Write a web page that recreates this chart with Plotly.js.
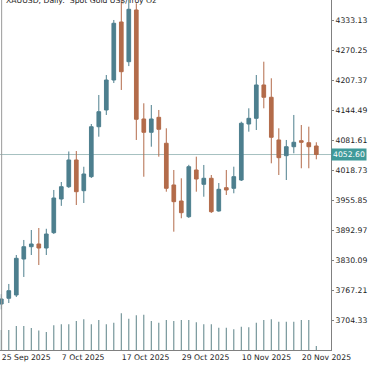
<!DOCTYPE html>
<html>
<head>
<meta charset="utf-8">
<script src="https://cdn.plot.ly/plotly-3.0.1.min.js"></script>
<style>html,body{margin:0;padding:0;background:#fff;}#chart{width:375px;height:366px;}</style>
</head>
<body>
<div id="chart"></div>
<script>
const dates = ["2025-09-25","2025-09-26","2025-09-29","2025-09-30","2025-10-01","2025-10-02","2025-10-03",
  "2025-10-06","2025-10-07","2025-10-08","2025-10-09","2025-10-10","2025-10-13","2025-10-14","2025-10-15",
  "2025-10-16","2025-10-17","2025-10-20","2025-10-21","2025-10-22","2025-10-23","2025-10-24","2025-10-27",
  "2025-10-28","2025-10-29","2025-10-30","2025-10-31","2025-11-03","2025-11-04","2025-11-05","2025-11-06",
  "2025-11-07","2025-11-10","2025-11-11","2025-11-12","2025-11-13","2025-11-14","2025-11-17","2025-11-18",
  "2025-11-19","2025-11-20","2025-11-21","2025-11-24"];
const open = [3739.3,3751.3,3758.2,3833.6,3859.4,3865.1,3856.7,3888.8,3959.4,3985.2,4041.2,3976.8,4006.2,4110.9,4146.0,
  4208.8,4330.4,4247.2,4355.6,4127.1,4099.2,4130.6,4076.2,3988.8,3955.2,3922.3,4020.2,3990.2,4002.8,3934.3,
  3983.1,3981.8,3999.2,4116.6,4128.5,4198.4,4172.6,4083.1,4050.2,4069.0,4081.6,4077.4,4070.5];
const high = [3760.0,3781.3,3842.0,3873.5,3894.4,3898.6,3897.0,3978.3,3995.0,4059.0,4060.0,4027.0,4116.6,4177.4,4219.3,
  4334.6,4382.8,4380.7,4369.6,4160.0,4156.4,4146.0,4107.6,4020.2,4002.8,4031.0,4048.1,4030.7,4009.7,3992.9,
  4020.2,4027.1,4121.4,4149.5,4219.3,4247.2,4212.4,4107.6,4083.1,4135.5,4114.5,4111.0,4078.3];
const low = [3728.0,3741.4,3754.0,3796.0,3842.0,3821.0,3842.0,3886.0,3945.0,3982.5,3946.8,3951.0,4003.4,4090.0,4135.5,
  4202.5,4187.9,4238.0,4083.1,4006.1,4069.0,4048.1,3974.7,3890.9,3919.0,3919.6,3974.7,3964.2,3930.1,3932.8,
  3967.8,3971.4,3997.1,4100.5,4104.0,4149.5,4034.2,4009.7,3999.2,4055.2,4023.8,4023.8,4042.6];
const close = [3749.8,3767.2,3835.1,3859.4,3865.1,3856.7,3886.0,3961.5,3985.2,4041.2,3974.7,4011.8,4110.9,4142.4,4208.8,
  4327.7,4226.2,4357.0,4126.5,4099.2,4127.1,4105.5,3981.8,3953.8,3930.7,4027.1,4001.3,4002.8,3932.8,3979.7,
  3978.3,4006.2,4118.1,4128.5,4198.4,4172.6,4088.7,4046.0,4069.0,4078.3,4078.3,4069.0,4052.6];
const volume = [200000,200000,240000,240000,220000,195000,180000,247000,257000,257000,290000,307000,257000,300000,257000,
  273000,367000,313000,347000,353000,290000,273000,300000,290000,300000,300000,277000,257000,257000,223000,
  223000,207000,233000,227000,273000,300000,307000,283000,283000,283000,300000,300000,40000];
const xTickDates = ["2025-09-25","2025-10-07","2025-10-17","2025-10-29","2025-11-10","2025-11-20"];
const xTickText = ["25 Sep 2025","7 Oct 2025","17 Oct 2025","29 Oct 2025","10 Nov 2025","20 Nov 2025"];
const yTickVals = [3704.33,3767.21,3830.09,3892.97,3955.85,4018.73,4081.61,4144.49,4207.37,4270.25,4333.13];
const yTickText = ["3704.33","3767.21","3830.09","3892.97","3955.85","4018.73","4081.61","4144.49","4207.37","4270.25","4333.13"];
const currentPrice = 4052.60;
const currentPriceText = "4052.60";
const chartTitle = "XAUUSD, Daily:  Spot Gold US$/Troy Oz";

const font = {family: "DejaVu Sans", size: 7.7, color: "#1e1e1e"};
const bull = "#4d7f8e", bear = "#b36b4a";

const traces = [
  {type: "bar", x: dates, y: volume, yaxis: "y2", width: 0.14,
   marker: {color: "#62878c", line: {width: 0}}, hoverinfo: "skip"},
  {type: "candlestick", x: dates, open: open, high: high, low: low, close: close,
   increasing: {line: {color: bull, width: 1}, fillcolor: bull},
   decreasing: {line: {color: bear, width: 1}, fillcolor: bear},
   whiskerwidth: 0}
];

const layout = {
  width: 375, height: 366,
  margin: {l: 0, r: 44, t: 0, b: 16, pad: 0},
  paper_bgcolor: "#ffffff", plot_bgcolor: "#ffffff",
  showlegend: false,
  font: font,
  xaxis: {type: "category", range: [-0.173, 43.96], tickvals: xTickDates, ticktext: xTickText,
    ticks: "", showline: true, linecolor: "#808080", linewidth: 1, showgrid: false, zeroline: false,
    tickfont: font, ticklabelposition: "outside right", rangeslider: {visible: false}, fixedrange: true},
  yaxis: {side: "right", range: [3642.9, 4376.5], tickvals: yTickVals, ticktext: yTickText,
    ticks: "outside", ticklen: 2, tickcolor: "#808080", showline: true, linecolor: "#808080", linewidth: 1,
    showgrid: false, zeroline: false, tickfont: font, fixedrange: true},
  yaxis2: {overlaying: "y", range: [0, 3500000], visible: false, fixedrange: true},
  shapes: [
    {type: "line", xref: "paper", yref: "y", x0: 0, x1: 1, y0: currentPrice, y1: currentPrice,
     line: {color: "#a6c0c0", width: 1}, layer: "below"},
    {type: "line", xref: "paper", yref: "paper", x0: 0.005, x1: 0.005, y0: 0, y1: 1,
     line: {color: "#9a9a9a", width: 1}}
  ],
  annotations: [
    {xref: "paper", yref: "paper", x: 0.012, y: 1, xanchor: "left", yanchor: "middle",
     text: chartTitle, showarrow: false, font: font},
    {xref: "paper", yref: "y", x: 1, y: currentPrice, xanchor: "left", yanchor: "middle",
     text: currentPriceText, showarrow: false, bgcolor: "#3f9a9a", borderpad: 1,
     font: {family: "DejaVu Sans", size: 7.7, color: "#ffffff"}}
  ]
};

Plotly.newPlot("chart", traces, layout, {displayModeBar: false, staticPlot: true});
</script>
</body>
</html>
